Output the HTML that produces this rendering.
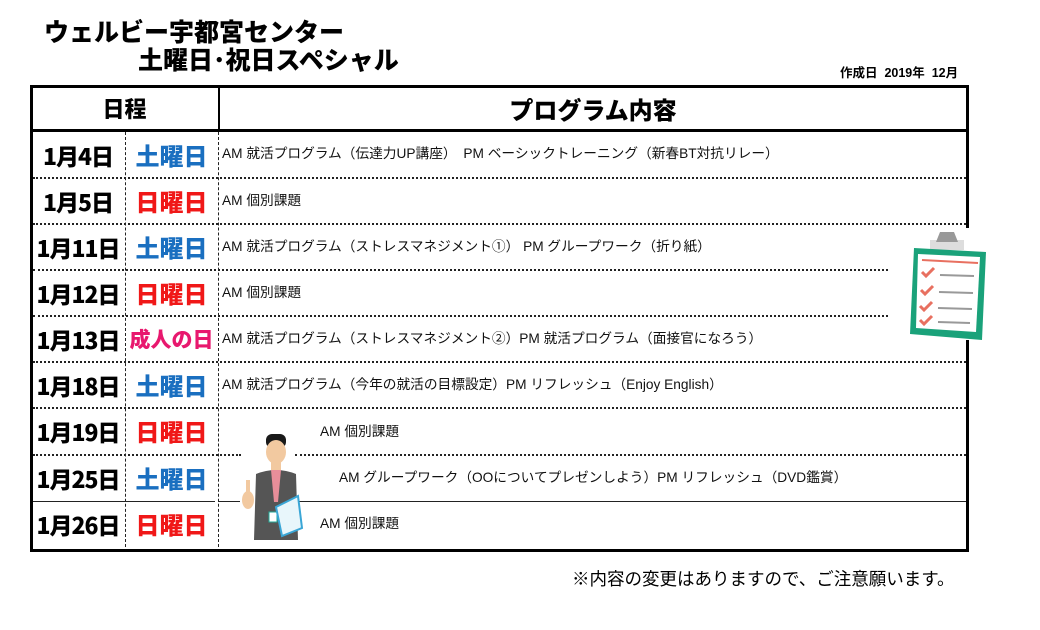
<!DOCTYPE html>
<html><head><meta charset="utf-8"><style>
body{margin:0;width:1040px;height:630px;background:#fff;position:relative;overflow:hidden;font-family:"Liberation Sans","Noto Sans CJK JP",sans-serif}
.a{position:absolute;white-space:nowrap}
.t{font-weight:900;font-family:"Noto Sans CJK JP",sans-serif}
.hl{position:absolute;height:0;border-top:2px dotted #222}
.vl{position:absolute;width:0;border-left:1px dashed #222}
.d{position:absolute;left:31px;width:94px;text-align:center;font-weight:900;font-size:23px;font-family:"Noto Sans CJK JP",sans-serif;line-height:46px;letter-spacing:-1px}
.w{position:absolute;left:125px;width:93px;text-align:center;font-weight:900;font-size:24px;font-family:"Noto Sans CJK JP",sans-serif;line-height:46px}
.b{color:#1a6fc0}.r{color:#f01818}.p{color:#e8186e}
.c{position:absolute;font-size:13.7px;line-height:46px;white-space:nowrap;color:#111}
</style></head><body>
<div class="a t" style="left:44px;top:16px;font-size:25px;line-height:30px">ウェルビー宇都宮センター</div>
<div class="a t" style="left:138px;top:44px;font-size:25px;line-height:30px">土曜日･祝日スペシャル</div>
<div class="a" style="left:840px;top:62px;font-size:12.5px;font-weight:bold">作成日&nbsp; 2019年&nbsp; 12月</div>

<div style="position:absolute;left:30px;top:85px;width:936px;height:461px;border:3px solid #000;border-right:none"></div>
<div style="position:absolute;left:966px;top:85px;width:3px;height:143px;background:#000"></div>
<div style="position:absolute;left:966px;top:340px;width:3px;height:209px;background:#000"></div>
<div style="position:absolute;left:30px;top:129px;width:939px;height:3px;background:#000"></div>
<div style="position:absolute;left:218px;top:88px;width:2px;height:41px;background:#000"></div>
<div class="vl" style="left:125px;top:132px;height:415px"></div>
<div class="vl" style="left:218px;top:132px;height:415px"></div>
<div class="a t" style="left:31px;top:88px;width:187px;text-align:center;font-size:22px;line-height:41px">日程</div>
<div class="a t" style="left:220px;top:88px;width:746px;text-align:center;font-size:24px;line-height:41px">プログラム内容</div>

<div class="hl" style="left:33px;top:177px;width:933px"></div>
<div class="hl" style="left:33px;top:223px;width:933px"></div>
<div class="hl" style="left:33px;top:269px;width:855px"></div>
<div class="hl" style="left:33px;top:315px;width:855px"></div>
<div class="hl" style="left:33px;top:361px;width:933px"></div>
<div class="hl" style="left:33px;top:407px;width:933px"></div>
<div class="hl" style="left:33px;top:454px;width:208px"></div>
<div class="hl" style="left:295px;top:454px;width:671px"></div>
<div style="position:absolute;left:33px;top:501px;width:182px;height:1px;background:#222"></div>
<div style="position:absolute;left:218px;top:501px;width:22px;height:1px;background:#222"></div>
<div style="position:absolute;left:285px;top:501px;width:681px;height:1px;background:#222"></div>

<div class="d" style="top:132px">1月4日</div><div class="w b" style="top:132px">土曜日</div>
<div class="d" style="top:178px">1月5日</div><div class="w r" style="top:178px">日曜日</div>
<div class="d" style="top:224px">1月11日</div><div class="w b" style="top:224px">土曜日</div>
<div class="d" style="top:270px">1月12日</div><div class="w r" style="top:270px">日曜日</div>
<div class="d" style="top:316px">1月13日</div><div class="w p" style="top:316px;font-size:21px">成人の日</div>
<div class="d" style="top:362px">1月18日</div><div class="w b" style="top:362px">土曜日</div>
<div class="d" style="top:408px">1月19日</div><div class="w r" style="top:408px">日曜日</div>
<div class="d" style="top:455px">1月25日</div><div class="w b" style="top:455px">土曜日</div>
<div class="d" style="top:501px">1月26日</div><div class="w r" style="top:501px">日曜日</div>

<div class="c" style="left:222px;top:131px">AM 就活プログラム（伝達力UP講座）　PM ベーシックトレーニング（新春BT対抗リレー）</div>
<div class="c" style="left:222px;top:178px">AM 個別課題</div>
<div class="c" style="left:222px;top:224px">AM 就活プログラム（ストレスマネジメント①）&nbsp;PM グループワーク（折り紙）</div>
<div class="c" style="left:222px;top:270px">AM 個別課題</div>
<div class="c" style="left:222px;top:316px">AM 就活プログラム（ストレスマネジメント②）PM 就活プログラム（面接官になろう）</div>
<div class="c" style="left:222px;top:362px">AM 就活プログラム（今年の就活の目標設定）PM リフレッシュ（Enjoy English）</div>
<div class="c" style="left:320px;top:409px">AM 個別課題</div>
<div class="c" style="left:339px;top:455px">AM グループワーク（OOについてプレゼンしよう）PM リフレッシュ（DVD鑑賞）</div>
<div class="c" style="left:320px;top:501px">AM 個別課題</div>

<svg style="position:absolute;left:236px;top:432px" width="70" height="108">
<rect x="30" y="2" width="20" height="14" rx="6" fill="#1a1a1a"/>
<ellipse cx="40" cy="20" rx="10" ry="12" fill="#f2c9a0"/>
<rect x="35" y="28" width="10" height="10" fill="#f2c9a0"/>
<path d="M20 42 Q40 34 60 42 L62 108 L18 108Z" fill="#555"/>
<path d="M35 38 L45 38 L42 70 L38 70Z" fill="#e88e9a"/>
<rect x="33" y="80" width="8" height="10" fill="#fff" stroke="#2a9"/>
<ellipse cx="12" cy="68" rx="6" ry="9" fill="#f2c9a0"/>
<rect x="10" y="48" width="4" height="14" fill="#f2c9a0"/>
<path d="M40 75 L62 64 L66 96 L46 104Z" fill="#e8f6fb" stroke="#3aa6d6" stroke-width="2"/>
</svg>

<svg style="position:absolute;left:908px;top:230px" width="82" height="114">
<rect x="22" y="10" width="34" height="10" fill="#ddd"/>
<path d="M32 2 L46 2 L50 12 L28 12Z" fill="#999"/>
<path d="M6 18 L78 22 L74 110 L2 104Z" fill="#1aa27a"/>
<path d="M10 24 L72 27 L68 102 L8 98Z" fill="#fff"/>
<line x1="14" y1="30" x2="70" y2="33" stroke="#e87060" stroke-width="2"/>
<g stroke="#e87060" stroke-width="3" fill="none"><path d="M14 42 l4 4 l8 -8"/><path d="M13 60 l4 4 l8 -8"/><path d="M12 76 l4 4 l8 -8"/><path d="M12 90 l4 4 l8 -8"/></g>
<g stroke="#999" stroke-width="2"><line x1="32" y1="45" x2="66" y2="46"/><line x1="31" y1="62" x2="65" y2="63"/><line x1="30" y1="78" x2="64" y2="79"/><line x1="30" y1="92" x2="62" y2="93"/></g>
</svg>

<div class="a" style="left:572px;top:566px;font-size:17.5px">※内容の変更はありますので、ご注意願います。</div>
</body></html>
